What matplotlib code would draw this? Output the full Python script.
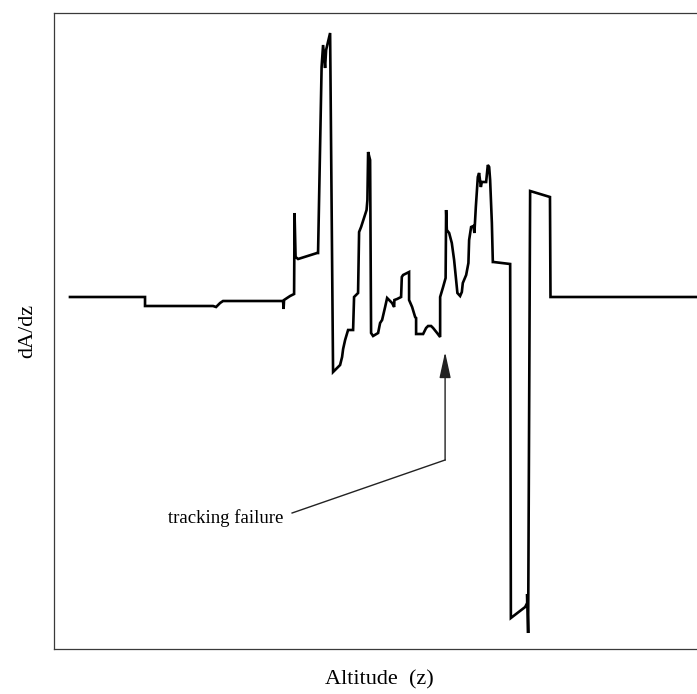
import matplotlib
matplotlib.use("Agg")
import matplotlib.pyplot as plt

# Altitude samples and the derivative dA/dz along the profile (arbitrary units)
altitude = [2.48, 14.13, 14.13, 24.69, 25.16, 25.78, 26.24, 35.56, 35.64, 35.71,
            36.65, 37.27, 37.34, 37.50, 37.89, 40.84, 40.99, 41.54, 41.77, 42.08,
            42.24, 42.86, 43.32, 44.41, 44.72, 44.88, 45.19, 45.65, 46.43, 46.58,
            47.20, 47.36, 47.67, 48.52, 48.65, 48.76, 49.07, 49.22, 49.53, 50.31,
            50.62, 50.93, 51.40, 51.71, 52.48, 52.80, 52.84, 53.26, 53.88, 53.99,
            54.19, 55.12, 55.12, 55.59, 56.06, 56.21, 56.21, 57.30, 57.76, 58.07,
            58.54, 58.85, 59.47, 59.94, 59.94, 60.40, 60.79, 60.87, 60.98, 61.34,
            61.75, 62.11, 62.42, 62.62, 63.04, 63.31, 63.46, 63.98, 64.33, 64.44,
            64.75, 65.11, 65.26, 65.48, 65.79, 65.99, 66.26, 66.41, 67.08, 67.34,
            67.55, 67.70, 67.97, 68.12, 68.22, 70.81, 70.92, 73.14, 73.45, 73.45,
            73.60, 73.91, 76.99, 77.07, 100.5]
dAdz = [0.00, 0.00, -0.09, -0.09, -0.10, -0.06, -0.04, -0.04, -0.12, -0.03,
        0.01, 0.03, 0.84, 0.40, 0.38, 0.44, 0.44, 2.30, 2.52, 2.29,
        2.47, 2.64, -0.75, -0.68, -0.60, -0.52, -0.43, -0.33, -0.33, 0.00,
        0.04, 0.65, 0.70, 0.87, 0.97, 1.45, 1.37, -0.36, -0.39, -0.36,
        -0.26, -0.23, -0.10, -0.01, -0.06, -0.10, -0.03, -0.02, 0.00, 0.20,
        0.22, 0.25, -0.03, -0.10, -0.20, -0.21, -0.37, -0.37, -0.31, -0.29,
        -0.29, -0.31, -0.36, -0.40, 0.00, 0.10, 0.19, 0.87, 0.67, 0.64,
        0.54, 0.37, 0.17, 0.04, 0.01, 0.05, 0.14, 0.22, 0.34, 0.57,
        0.70, 0.71, 0.64, 0.90, 1.20, 1.24, 1.10, 1.15, 1.15, 1.32,
        1.30, 1.17, 0.74, 0.35, 0.35, 0.33, -3.21, -3.10, -3.06, -2.97,
        -3.36, 1.06, 1.00, 0.00, 0.00]

# Annotation: arrow tip, bend point and label position
note_text = "tracking failure"
note_tip = (60.71, -0.55)
note_bend = (60.71, -1.63)
note_line_start = (36.96, -2.16)
note_label_pos = (17.75, -2.21)

plt.rcParams["font.family"] = ["Liberation Serif", "DejaVu Serif"]

fig = plt.figure(figsize=(6.97, 6.94), dpi=100)
ax = fig.add_axes([54 / 697, 45 / 694, 650 / 697, 636 / 694])

ax.plot(altitude, dAdz, color="black", lw=1.9, solid_joinstyle="miter")

ax.set_xlim(0, 100.9)
ax.set_ylim(-3.52, 2.84)
ax.set_xticks([])
ax.set_yticks([])
for side in ("left", "bottom", "top"):
    ax.spines[side].set_color("#3a3a3a")
    ax.spines[side].set_linewidth(0.9)
ax.spines["right"].set_visible(False)

ax.set_xlabel("Altitude  (z)", fontsize=16, labelpad=15)
ax.set_ylabel("dA/dz", fontsize=16, labelpad=12)

# label, slanted leader and vertical arrow
ax.text(note_label_pos[0], note_label_pos[1], note_text, fontsize=13.5,
        ha="left", va="center")
ax.plot([note_line_start[0], note_bend[0]], [note_line_start[1], note_bend[1]],
        color="#222222", lw=1.0)
ax.annotate("", xy=note_tip, xytext=note_bend,
            arrowprops=dict(arrowstyle="-|>,head_length=1.6,head_width=0.35",
                            color="#222222", lw=1.0, shrinkA=0, shrinkB=0,
                            facecolor="black"))

fig.savefig("out.png", dpi=100)
